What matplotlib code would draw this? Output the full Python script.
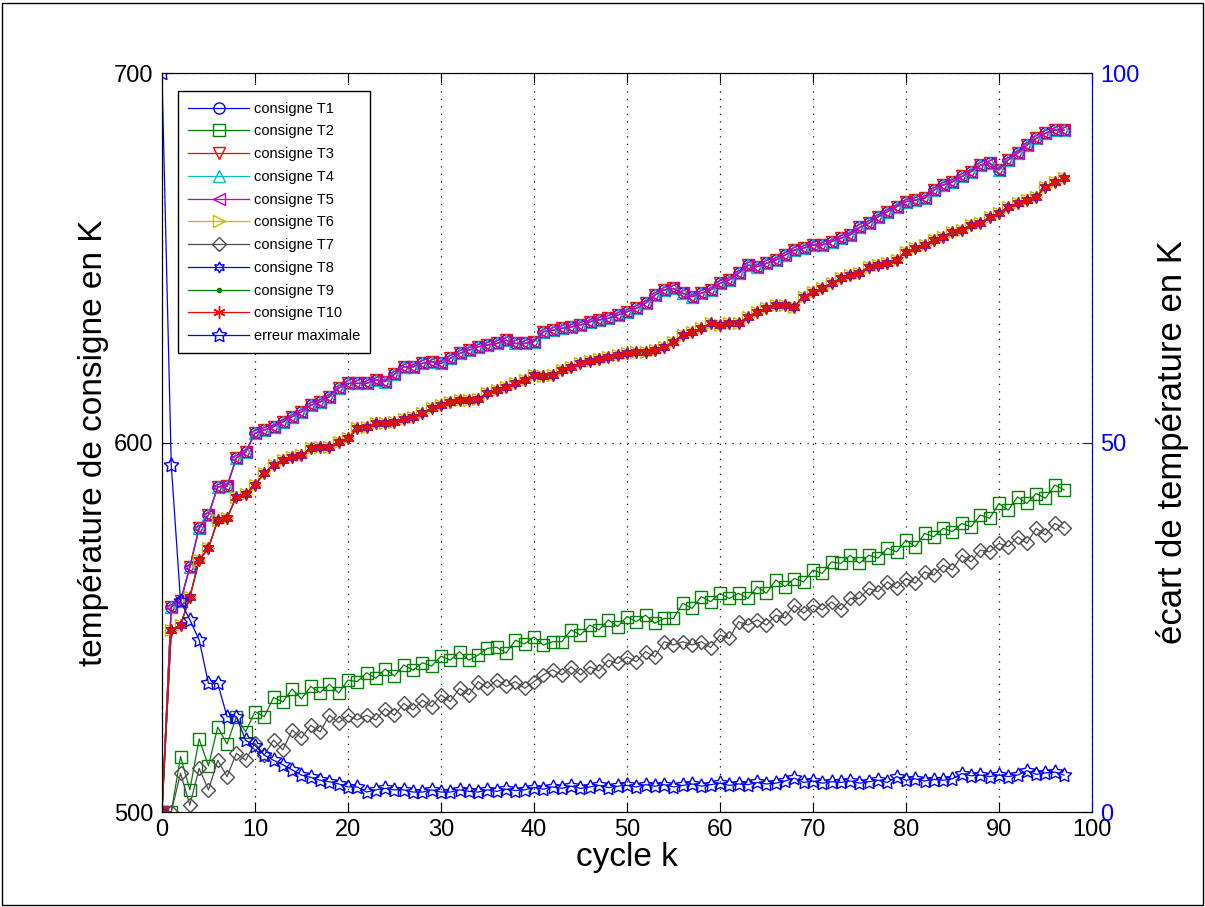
import numpy as np
import matplotlib.pyplot as plt
from matplotlib.patches import Rectangle

plt.rcParams['font.family'] = ['Liberation Sans', 'DejaVu Sans']

# cycles
cycles = np.arange(0, 98)

# upper group (T1, T3, T4, T5)
upper = [500, 555.6, 557.0, 566.4, 576.9, 580.4, 588.0, 588.2, 595.8, 597.4,
         602.5, 603.4, 604.3, 605.6, 607.0, 608.3, 610.1, 611.0, 612.4, 614.7,
         616.0, 616.0, 616.0, 617.0, 616.5, 618.5, 620.5, 620.5, 621.4, 621.9,
         621.4, 622.8, 624.1, 625.0, 625.9, 626.4, 626.8, 627.7, 626.8, 626.8,
         627.3, 630.0, 630.4, 630.9, 631.3, 631.8, 632.7, 633.2, 633.6, 634.5,
         635.4, 636.3, 637.7, 639.9, 641.3, 641.7, 640.4, 639.5, 640.4, 641.3,
         643.1, 644.0, 645.8, 648.0, 647.6, 648.5, 649.4, 650.7, 652.1, 652.6,
         653.5, 653.5, 654.4, 655.3, 656.2, 658.2, 659.3, 661.1, 662.5, 663.8,
         665.2, 665.6, 666.1, 668.3, 669.7, 670.6, 672.0, 673.3, 675.1, 675.6,
         673.8, 676.5, 678.3, 680.5, 682.3, 683.7, 684.6, 684.6]

# lower group (T6, T8, T9, T10)
lower = [500, 549.3, 550.6, 558.2, 568.2, 571.4, 579.0, 579.6, 585.3, 586.0,
         588.5, 591.7, 593.9, 595.3, 596.2, 596.6, 598.4, 598.9, 598.9, 600.2,
         601.1, 603.8, 604.3, 605.2, 605.2, 605.6, 606.5, 607.0, 608.0, 609.3,
         610.1, 611.0, 611.5, 611.5, 611.8, 613.3, 614.2, 615.1, 616.0, 617.0,
         618.3, 618.0, 618.3, 619.6, 620.5, 621.4, 622.0, 622.5, 623.2, 623.7,
         624.1, 624.6, 624.6, 625.0, 625.9, 627.3, 629.1, 630.0, 630.9, 632.3,
         631.8, 632.3, 632.3, 634.0, 635.4, 636.3, 637.2, 637.2, 636.8, 639.5,
         640.8, 641.7, 643.1, 644.4, 645.3, 645.8, 647.6, 648.0, 648.5, 649.4,
         651.6, 652.6, 653.5, 654.8, 655.7, 657.1, 657.5, 658.9, 659.3, 661.1,
         662.0, 663.8, 664.7, 665.6, 666.5, 669.2, 670.6, 671.5]

# T2
t2 = [500, 500, 515, 506, 519.8, 512.5, 523, 518.4, 525.7, 521.7,
      527.2, 525.8, 531, 529.8, 533.3, 530.6, 534, 532.3, 534.6, 532.2,
      535.7, 535.3, 537.7, 536.2, 538.7, 536.8, 539.8, 538.4, 540.4, 539.5,
      542.2, 541.1, 543.4, 541.1, 542.5, 544.3, 544.6, 543, 546.5, 545.5,
      547.4, 545.2, 546.1, 546.1, 549.3, 547.9, 550.6, 549.3, 552, 550.2,
      552.9, 551.5, 553.3, 551.1, 552.4, 552.4, 556.5, 555.1, 558.3, 556.9,
      559.2, 557.8, 559.2, 557.8, 561, 559.2, 562.8, 561, 563.2, 562.3,
      565.5, 564.6, 567.7, 567.3, 569.5, 567.3, 569.5, 568.7, 571.4, 570.4,
      573.6, 571.8, 575.4, 574.5, 576.8, 575.9, 578.1, 577.2, 580.4, 579.5,
      583.5, 581.7, 585.3, 583.5, 586.2, 584.9, 588.5, 587.2]

# T7
t7 = [500, 500, 510.5, 501.9, 511.8, 506, 514, 509.6, 515.9, 514,
      518.6, 515.4, 519.5, 516.8, 522.2, 520, 523.5, 521.7, 526.2, 524.2,
      526.2, 524.9, 526.2, 524.9, 528, 526.2, 529.4, 527.6, 530.3, 528.5,
      531.7, 529.9, 533.5, 531.7, 535.3, 533.5, 535.8, 534, 535.3, 533.5,
      535.3, 537.1, 538.5, 537.1, 539.3, 537.1, 539.3, 538.2, 541.1, 540.2,
      542, 540.7, 543.4, 542, 546.1, 545.2, 546.1, 545.2, 546.1, 544.5,
      547.9, 547, 551.5, 550.6, 552, 550.6, 553.3, 552.5, 556, 553.8,
      556, 554.7, 556.9, 554.7, 557.8, 557.8, 560.5, 559.6, 562.3, 560.5,
      563.2, 561.9, 565, 564.1, 566.8, 565.5, 569.5, 567.7, 570.9, 570.4,
      572.7, 571.8, 574.5, 572.7, 576.8, 575, 578.1, 576.8]

# maximum error (right axis)
erreur = [100, 47, 28.5, 26, 23.3, 17.4, 17.4, 12.9, 12.9, 9.7,
          9.0, 7.7, 7.0, 6.4, 5.7, 5.0, 4.7, 4.3, 4.1, 3.8,
          3.4, 3.4, 2.7, 3.0, 3.2, 3.0, 3.0, 2.7, 2.7, 3.0,
          2.7, 2.7, 3.0, 2.8, 2.7, 3.0, 2.8, 3.1, 2.9, 3.0,
          3.3, 3.1, 3.4, 3.2, 3.5, 3.2, 3.4, 3.6, 3.3, 3.5,
          3.6, 3.4, 3.7, 3.5, 3.7, 3.4, 3.6, 3.8, 3.5, 3.7,
          3.9, 3.6, 3.8, 3.7, 4.0, 3.8, 3.9, 4.2, 4.6, 4.0,
          4.2, 3.9, 4.1, 4.0, 4.2, 3.9, 4.1, 4.3, 4.0, 4.8,
          4.3, 4.5, 4.2, 4.4, 4.3, 4.5, 5.2, 4.9, 5.0, 4.8,
          5.0, 4.8, 5.0, 5.6, 5.1, 5.3, 5.4, 5.0]

series = [('consigne T1', upper), ('consigne T2', t2), ('consigne T3', upper),
          ('consigne T4', upper), ('consigne T5', upper), ('consigne T6', lower),
          ('consigne T7', t7), ('consigne T8', lower), ('consigne T9', lower),
          ('consigne T10', lower)]

# MATLAB-like colour / marker styles
styles = [((0, 0, 1), 'o', 8), ((0, 0.5, 0), 's', 9), ((1, 0, 0), 'v', 8),
          ((0, 0.75, 0.75), '^', 8), ((0.75, 0, 0.75), '<', 8),
          ((0.75, 0.75, 0), '>', 8), ((0.3, 0.3, 0.3), 'D', 7),
          ((0, 0, 1), (6, 1, 0), 8), ((0, 0.5, 0), '.', 6),
          ((1, 0, 0), (6, 2, 0), 9)]

fig = plt.figure(figsize=(12.05, 9.07), dpi=100)
ax = fig.add_axes([0.1344, 0.1047, 0.7718, 0.8148])

handles = []
for (label, vals), (col, mk, ms) in zip(series, styles):
    h, = ax.plot(cycles, vals, color=col, marker=mk, markersize=ms,
                 markerfacecolor=col if mk == '.' else 'none',
                 markeredgewidth=1, linewidth=0.9, label=label)
    handles.append(h)

ax.set_xlim(0, 100)
ax.set_ylim(500, 700)
ax.set_xticks(np.arange(0, 101, 10))
ax.set_yticks([500, 600, 700])
ax.tick_params(direction='in', length=7, labelsize=17, top=True)
ax.tick_params(axis='y', pad=6)
ax.tick_params(axis='x', pad=5)
ax.grid(True, color='black', linestyle=(0, (1, 5)), linewidth=0.9)
ax.set_xlabel('cycle k', fontsize=24, labelpad=1)
ax.set_ylabel('température de consigne en K', fontsize=24, labelpad=4)

ax2 = ax.twinx()
h, = ax2.plot(cycles, erreur, color=(0, 0, 1), marker=(5, 1, 0), markersize=11,
              markerfacecolor='none', markeredgewidth=1, linewidth=0.9,
              label='erreur maximale')
handles.append(h)
ax2.set_ylim(0, 100)
ax2.set_yticks([0, 50, 100])
ax2.tick_params(direction='in', length=7, labelsize=17, colors=(0, 0, 1), pad=6)
ax2.spines['right'].set_color((0, 0, 1))
ax2.set_ylabel('écart de température en K', fontsize=25, labelpad=12)

leg = ax2.legend(handles=handles, loc='upper left',
                 bbox_to_anchor=(0.0172, 0.975), borderaxespad=0,
                 fontsize=10.5, handlelength=4.2, labelspacing=0.6,
                 borderpad=0.7, handletextpad=0.3, fancybox=False,
                 framealpha=1, edgecolor='black')
leg.get_frame().set_linewidth(1)

# outer frame of the exported figure
fig.patches.append(Rectangle((0.002, 0.002), 0.996, 0.995, transform=fig.transFigure,
                             fill=False, edgecolor='black', linewidth=1))

plt.savefig('out.png', dpi=100)
